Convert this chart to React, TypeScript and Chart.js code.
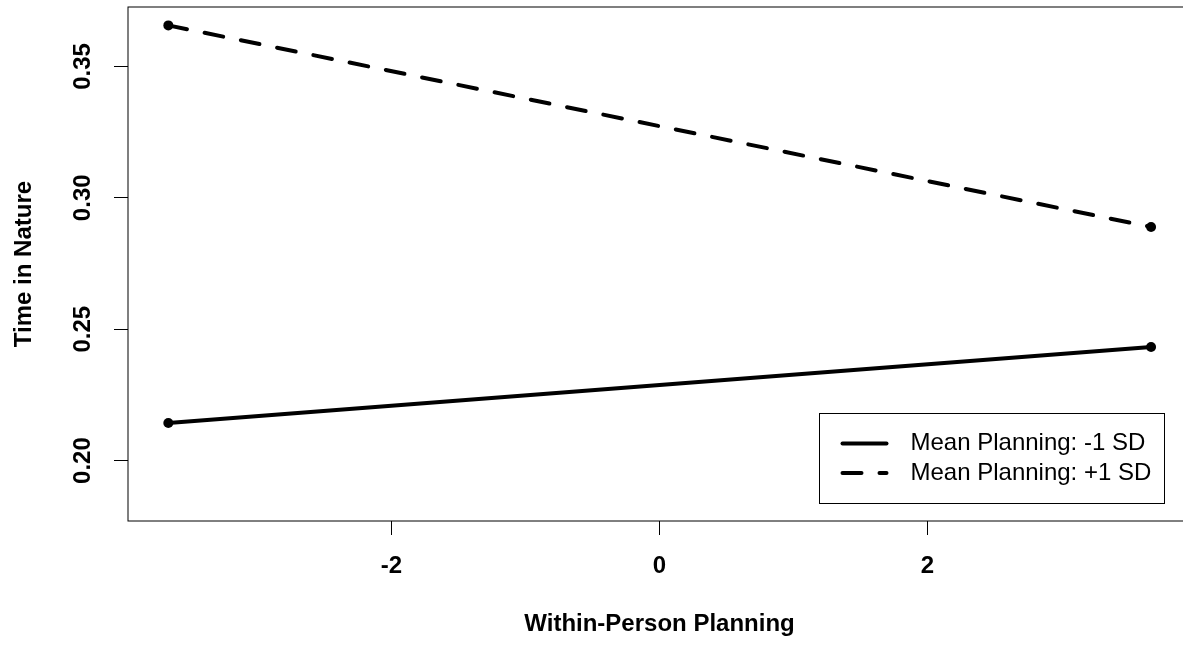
import React, { useEffect, useRef } from "react";
import { Chart, registerables } from "chart.js";

Chart.register(...registerables);

// ---- data ----
const xPoints = [-3.665, 3.668];
const lowPlanning = [0.2143, 0.2432];
const highPlanning = [0.3656, 0.2889];
const seriesLabels = ["Mean Planning: -1 SD", "Mean Planning: +1 SD"];
const xTickValues = [-2, 0, 2];
const yTickValues = [0.2, 0.25, 0.3, 0.35];
const xTitle = "Within-Person Planning";
const yTitle = "Time in Nature";

const FONT = '"Liberation Sans", Arial, sans-serif';
const DASH = [19, 18];

const frameAndLegend = {
  id: "frameAndLegend",
  afterDraw(chart: any) {
    const { ctx, chartArea: a } = chart;
    ctx.save();
    ctx.strokeStyle = "#000";
    ctx.lineWidth = 1;
    ctx.setLineDash([]);
    ctx.strokeRect(a.left, a.top, a.right - a.left, a.bottom - a.top);

    const bw = 345;
    const bh = 90;
    const bx = Math.round(a.right - 27 - bw) + 0.5;
    const by = Math.round(a.bottom - 18 - bh) + 0.5;
    ctx.fillStyle = "#fff";
    ctx.fillRect(bx, by, bw, bh);
    ctx.strokeRect(bx, by, bw, bh);

    const dashes = [[], DASH];
    seriesLabels.forEach((label, i) => {
      const y = by + 30 + i * 29.5;
      ctx.beginPath();
      ctx.setLineDash(dashes[i]);
      ctx.lineCap = "round";
      ctx.lineWidth = 4;
      ctx.strokeStyle = "#000";
      ctx.moveTo(bx + 23, y);
      ctx.lineTo(bx + 67, y);
      ctx.stroke();
      ctx.setLineDash([]);
      ctx.font = `24px ${FONT}`;
      ctx.textBaseline = "middle";
      ctx.textAlign = "left";
      ctx.fillStyle = "#000";
      ctx.fillText(label, bx + 91, y);
    });
    ctx.restore();
  },
};

export default function App() {
  const ref = useRef<HTMLCanvasElement | null>(null);

  useEffect(() => {
    if (!ref.current) return;
    const chart = new Chart(ref.current, {
      type: "scatter",
      data: {
        datasets: [
          {
            label: seriesLabels[0],
            data: xPoints.map((x, i) => ({ x, y: lowPlanning[i] })),
            showLine: true,
            borderColor: "#000",
            backgroundColor: "#000",
            borderWidth: 4,
            borderCapStyle: "round",
            pointRadius: 5,
            pointBorderWidth: 0,
            pointBackgroundColor: "#000",
          },
          {
            label: seriesLabels[1],
            data: xPoints.map((x, i) => ({ x, y: highPlanning[i] })),
            showLine: true,
            borderColor: "#000",
            backgroundColor: "#000",
            borderWidth: 4,
            borderDash: DASH,
            borderCapStyle: "round",
            pointRadius: 5,
            pointBorderWidth: 0,
            pointBackgroundColor: "#000",
          },
        ],
      },
      options: {
        responsive: false,
        animation: false,
        devicePixelRatio: 1,
        layout: { padding: { top: 7, right: 19, left: 0, bottom: 0 } },
        plugins: {
          legend: { display: false },
          tooltip: { enabled: false },
        },
        scales: {
          x: {
            type: "linear",
            min: -3.966,
            max: 3.966,
            afterBuildTicks: (scale: any) => {
              scale.ticks = xTickValues.map((v) => ({ value: v }));
            },
            afterFit: (scale: any) => {
              scale.height = 124;
              scale.paddingLeft = 0;
              scale.paddingRight = 0;
            },
            border: { display: false },
            grid: {
              display: true,
              drawOnChartArea: false,
              drawTicks: true,
              tickLength: 14,
              color: "#000",
              lineWidth: 1,
            },
            ticks: {
              color: "#000",
              padding: 17,
              maxRotation: 0,
              minRotation: 0,
              font: { family: FONT, size: 24, weight: "bold" },
              callback: (v: any) => String(v),
            },
            title: {
              display: true,
              text: xTitle,
              color: "#000",
              font: { family: FONT, size: 24, weight: "bold" },
              padding: { top: 0, bottom: 6 },
            },
          },
          y: {
            type: "linear",
            min: 0.177,
            max: 0.3726,
            afterBuildTicks: (scale: any) => {
              scale.ticks = yTickValues.map((v) => ({ value: v }));
            },
            afterFit: (scale: any) => {
              scale.width = 128;
              scale.paddingTop = 0;
              scale.paddingBottom = 0;
            },
            border: { display: false },
            grid: {
              display: true,
              drawOnChartArea: false,
              drawTicks: true,
              tickLength: 14,
              color: "#000",
              lineWidth: 1,
            },
            ticks: {
              color: "#000",
              padding: 7,
              minRotation: 90,
              maxRotation: 90,
              crossAlign: "center",
              font: { family: FONT, size: 24, weight: "bold" },
              callback: (v: any) => Number(v).toFixed(2),
            },
            title: {
              display: true,
              text: yTitle,
              color: "#000",
              font: { family: FONT, size: 24, weight: "bold" },
              padding: { top: 10, bottom: 0 },
            },
          },
        },
      },
      plugins: [frameAndLegend],
    } as any);
    return () => chart.destroy();
  }, []);

  return (
    <div
      style={{
        position: "absolute",
        left: 0,
        top: 0,
        width: 1183,
        height: 645,
        overflow: "hidden",
        background: "#fff",
      }}
    >
      <canvas
        ref={ref}
        width={1210}
        height={645}
        style={{ width: 1210, height: 645, display: "block" }}
      />
    </div>
  );
}
